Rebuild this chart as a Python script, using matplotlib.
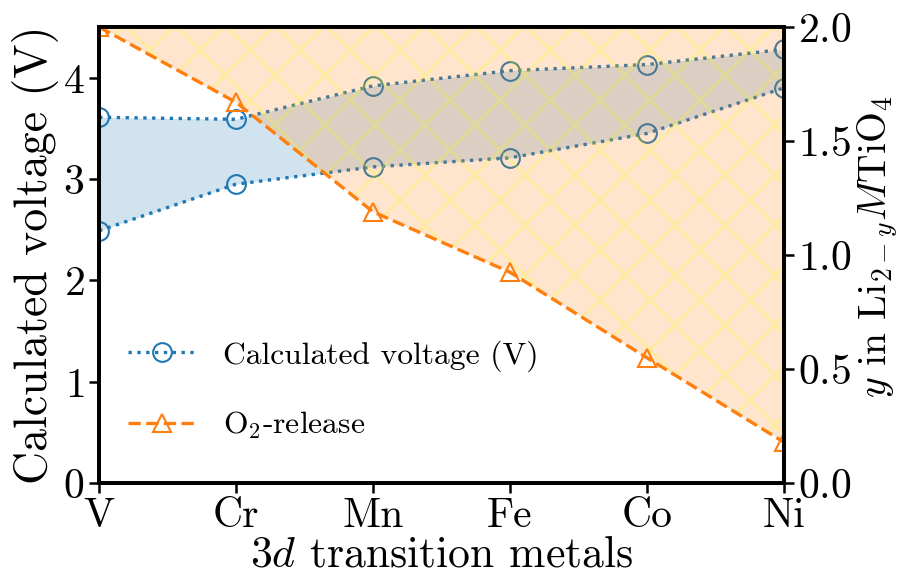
import matplotlib
matplotlib.use("Agg")
import matplotlib.pyplot as plt
import numpy as np

plt.rcParams['font.family'] = 'serif'
plt.rcParams['font.serif'] = ['cmr10']
plt.rcParams['mathtext.fontset'] = 'cm'
plt.rcParams['axes.formatter.use_mathtext'] = True
plt.rcParams['hatch.linewidth'] = 0.8

metals = ['V', 'Cr', 'Mn', 'Fe', 'Co', 'Ni']
voltage_high = [3.61, 3.59, 3.92, 4.07, 4.13, 4.28]
voltage_low = [2.49, 2.95, 3.12, 3.21, 3.45, 3.90]
o2_release = [2.0, 1.67, 1.19, 0.925, 0.55, 0.18]

x = np.arange(len(metals))

fig = plt.figure(figsize=(3.003, 1.927), dpi=300)
ax = fig.add_axes([0.110, 0.164, 0.760, 0.789])

ax.fill_between(x, voltage_low, voltage_high, color='C0', alpha=0.2, linewidth=0)
l1, = ax.plot(x, voltage_high, ':o', color='C0', mfc='none', ms=4.5, mew=0.5, lw=0.8,
              label='Calculated voltage (V)')
ax.plot(x, voltage_low, ':o', color='C0', mfc='none', ms=4.5, mew=0.5, lw=0.8)
ax.set_xlim(0, 5)
ax.set_ylim(0, 4.5)
ax.set_xticks(x)
ax.set_xticklabels(metals)
ax.set_xlabel('$3d$ transition metals', fontsize=10.5, labelpad=0)
ax.set_ylabel('Calculated voltage (V)', fontsize=11, labelpad=1)
ax.tick_params(labelsize=10, width=0.6, length=2.5, pad=1)

ax2 = ax.twinx()
ax2.fill_between(x, o2_release, 2.0, facecolor='C1', edgecolor='yellow', alpha=0.2,
                 hatch='xx', linewidth=0)
l2, = ax2.plot(x, o2_release, '--^', color='C1', mfc='none', ms=4.5, mew=0.5, lw=0.8,
               label='O$_2$-release')
ax2.set_ylim(0, 2.0)
ax2.set_ylabel('$y$ in Li$_{2-y}M$TiO$_4$', fontsize=9.5)
ax2.yaxis.set_label_coords(1.105, 0.52)
ax2.tick_params(labelsize=10, width=0.6, length=2.5, pad=1)

for a in (ax, ax2):
    for s in a.spines.values():
        s.set_linewidth(0.9)

ax2.legend(handles=[l1, l2], loc='lower left', bbox_to_anchor=(0.0, 0.03),
           frameon=False, fontsize=7.6, handlelength=2.2, labelspacing=1.2)

fig.savefig('out.png', dpi=300)
